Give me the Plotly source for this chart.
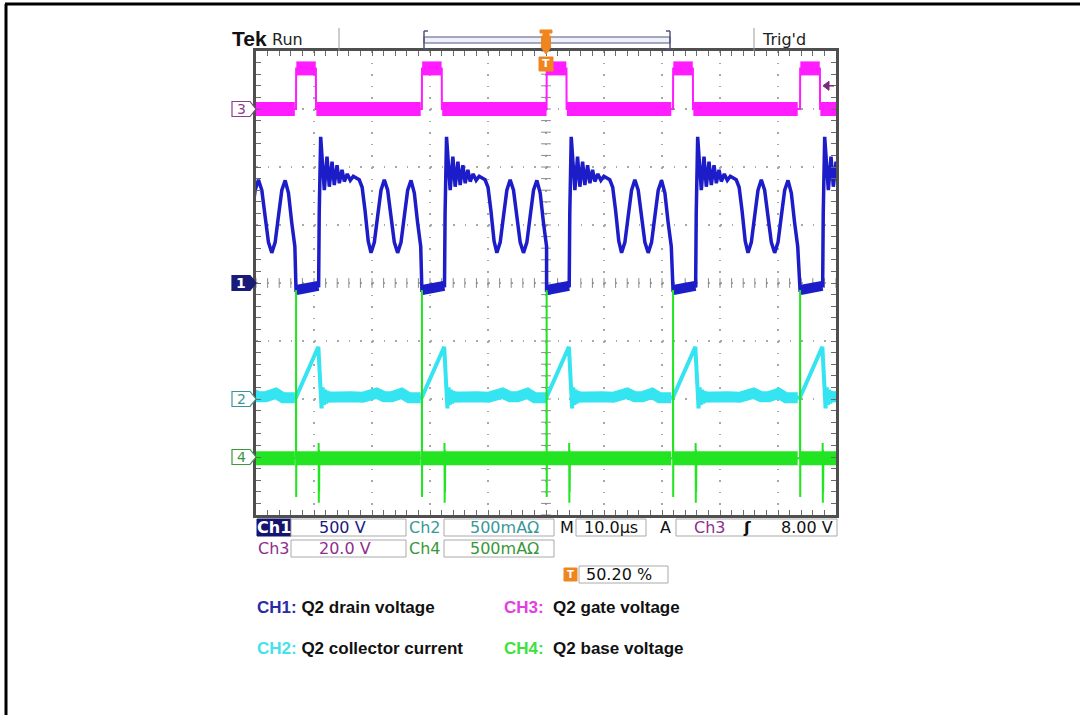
import plotly.graph_objects as go

W, H = 1080, 715
# screen (graticule) geometry in pixels
GX0, GX1, GY0, GY1 = 256, 836, 51, 515
DIV_PX = (GY1 - GY0) / 8.0
CY = (GY0 + GY1) / 2.0


def px(x):
    return x / W


def py(y):
    return 1 - y / H


# ---------------- data read from the screen ----------------
# rising edges of the gate pulse (CH3), µs on a 100 µs screen (10 µs/div)
EDGE_TIMES_US = [-14.8, 6.9, 28.6, 50.1, 71.9, 93.8]

# CH1 drain voltage, one switching cycle (µs after gate edge, volts)
CH1_DT = [0.00, 3.90, 4.00, 4.25, 4.88, 5.34, 5.74, 6.21, 6.60, 7.07, 7.47, 7.93,
          8.33, 8.84, 9.36, 9.88, 10.90, 11.40, 11.90, 12.45, 12.93, 13.50, 14.07,
          14.65, 15.22, 15.80, 16.37, 16.95, 17.52, 18.10, 18.67, 19.25, 19.83,
          20.40, 20.95, 21.50]
CH1_V = [-60, -25, 600, 1260, 800, 1090, 830, 1045, 845, 1015, 860, 975,
         875, 940, 885, 920, 890, 825, 625, 360, 260, 350, 575,
         800, 890, 800, 575, 350, 260, 350, 575, 800, 885,
         775, 525, 315]
CH1_BAND_DT = [0.05, 3.85]
CH1_BAND_V = [-60, -25]

# CH2 collector current (mA)
CH2_DT = [0.00, 3.85, 4.05, 4.40, 4.60, 4.80, 5.00, 5.20, 5.40, 5.60, 5.85, 6.10,
          6.40, 6.70, 7.10, 7.50, 8.00, 9.50, 11.50, 12.80, 13.90, 15.20, 16.50,
          18.20, 19.50, 21.50]
CH2_MA = [15, 450, 250, -80, 100, -50, 80, -40, 70, -20, 60, -10,
          45, 0, 35, 10, 25, 20, 15, 25, 50, 20, 20,
          50, 10, 10]
CH2_BAND_DT = [4.70, 6.00, 8.00, 9.50, 11.50, 12.80, 13.90, 15.20, 16.50, 18.20, 19.50, 21.50]
CH2_BAND_MA = [15, 20, 25, 20, 15, 25, 50, 20, 20, 50, 10, 10]

# CH3 gate voltage (V)
CH3_DT = [0.00, 0.02, 3.43, 3.45, 21.50]
CH3_V = [0, 14, 14, 0, 0]
CH3_BAND_DT = [0.05, 3.40, None, 3.50, 21.50]
CH3_BAND_V = [14, 14, None, 0, 0]

# CH4 base voltage (mA-ohm)
CH4_DT = [0.00, 0.01, 0.03, 0.05, 3.88, 3.90, 3.93, 3.96, 3.99, 4.02, 21.50]
CH4_MA = [-10, 1440, -345, -10, -10, 120, -395, 60, -300, -10, -10]
CH4_BAND_DT = [0.00, 21.50]
CH4_BAND_MA = [-10, -10]

CHANNEL_SCALE = [500, 500, 20, 500]       # units per division
CHANNEL_OFFSET_DIV = [0, -2, 3, -3]       # ground marker position
CHANNEL_COLOR = ["#1c1cc8", "#34e4f0", "#ff1cff", "#22e422"]
TRIGGER_LEVEL_V = 8.0

INFO_ROW1 = ["Ch1", "500 V", "Ch2", "500mAΩ", "M", "10.0µs", "A", "Ch3", "ʃ", "8.00 V"]
INFO_ROW2 = ["Ch3", "20.0 V", "Ch4", "500mAΩ"]
TRIGGER_POS_TEXT = "50.20 %"
LEGEND_ITEMS = [("CH1:", "Q2 drain voltage", "#2b2ba6"),
                ("CH3:", " Q2 gate voltage", "#e23ee2"),
                ("CH2:", "Q2 collector current", "#44e2ea"),
                ("CH4:", " Q2 base voltage", "#3ee23e")]


def tile(dts, vals, gap=False):
    xs, ys = [], []
    for e in EDGE_TIMES_US:
        for d, v in zip(dts, vals):
            if d is None:
                xs.append(None)
                ys.append(None)
            else:
                xs.append(e + d)
                ys.append(v)
        if gap:
            xs.append(None)
            ys.append(None)
    return xs, ys


fig = go.Figure()

# graticule centre-line ticks (on division axis)
tx = [i * 2 for i in range(51)]
fig.add_trace(go.Scatter(x=tx, y=[0] * len(tx), mode="markers", yaxis="y",
                         marker=dict(symbol="line-ns", size=7, line=dict(width=1, color="#8a8a8a")),
                         hoverinfo="skip"))
ty = [-4 + i * 0.2 for i in range(41)]
fig.add_trace(go.Scatter(x=[50] * len(ty), y=ty, mode="markers", yaxis="y",
                         marker=dict(symbol="line-ew", size=7, line=dict(width=1, color="#8a8a8a")),
                         hoverinfo="skip"))

channels = [
    (4, CH4_DT, CH4_MA, CH4_BAND_DT, CH4_BAND_MA, 2.0, 14),
    (2, CH2_DT, CH2_MA, CH2_BAND_DT, CH2_BAND_MA, 4.0, 11),
    (3, CH3_DT, CH3_V, CH3_BAND_DT, CH3_BAND_V, 2.0, 14),
    (1, CH1_DT, CH1_V, CH1_BAND_DT, CH1_BAND_V, 3.5, 10),
]
for ch, dt, val, bdt, bval, wthin, wband in channels:
    color = CHANNEL_COLOR[ch - 1]
    ax = "y%d" % (ch + 1)
    bx, by = tile(bdt, bval, gap=True)
    fig.add_trace(go.Scatter(x=bx, y=by, mode="lines", yaxis=ax,
                             line=dict(color=color, width=wband), hoverinfo="skip"))
    lx, ly = tile(dt, val)
    fig.add_trace(go.Scatter(x=lx, y=ly, mode="lines", yaxis=ax,
                             line=dict(color=color, width=wthin), hoverinfo="skip"))

xdom = [px(GX0), px(GX1)]
ydom = [py(GY1), py(GY0)]
axis_common = dict(showticklabels=False, zeroline=False, showline=True, linecolor="#4f4f4f",
                   linewidth=3, mirror="ticks", ticks="inside", ticklen=5, tickcolor="#6a6a6a",
                   tickwidth=1, showgrid=True, gridcolor="#a8a8a8", gridwidth=1.5,
                   griddash="1.6px,%.2fpx" % (DIV_PX / 5 - 1.6), fixedrange=True)
layout = dict(
    width=W, height=H, margin=dict(l=0, r=0, t=0, b=0),
    paper_bgcolor="white", plot_bgcolor="white", showlegend=False,
    xaxis=dict(domain=xdom, range=[0, 100], dtick=10,
               minor=dict(dtick=2, ticks="inside", ticklen=5, tickcolor="#6a6a6a", showgrid=False),
               **axis_common),
    yaxis=dict(domain=ydom, range=[-4, 4], dtick=1,
               minor=dict(dtick=0.2, ticks="inside", ticklen=5, tickcolor="#6a6a6a", showgrid=False),
               **axis_common),
)
for i in range(4):
    sc, off = CHANNEL_SCALE[i], CHANNEL_OFFSET_DIV[i]
    layout["yaxis%d" % (i + 2)] = dict(overlaying="y", range=[(-4 - off) * sc, (4 - off) * sc],
                                       visible=False, fixedrange=True)
fig.update_layout(**layout)

shapes = []
ann = []


def rect(x0, y0, x1, y1, fill="white", line="#aaaaaa", lw=1):
    shapes.append(dict(type="rect", xref="paper", yref="paper", x0=px(x0), x1=px(x1),
                       y0=py(y1), y1=py(y0), fillcolor=fill, line=dict(color=line, width=lw)))


def line(x0, y0, x1, y1, color="#888888", w=1):
    shapes.append(dict(type="line", xref="paper", yref="paper", x0=px(x0), x1=px(x1),
                       y0=py(y0), y1=py(y1), line=dict(color=color, width=w)))


def path(pts, fill, color, w=1):
    d = "M " + " L ".join("%f,%f" % (px(a), py(b)) for a, b in pts) + " Z"
    shapes.append(dict(type="path", xref="paper", yref="paper", path=d, fillcolor=fill,
                       line=dict(color=color, width=w)))


def text(x, y, s, size=15, color="#111111", xanchor="center", family="DejaVu Sans"):
    ann.append(dict(x=px(x), y=py(y), xref="paper", yref="paper", text=s, showarrow=False,
                    xanchor=xanchor, yanchor="middle", font=dict(size=size, color=color, family=family)))


# outer frame (top and left)
line(6, 715, 6, 4, "black", 3)
line(5, 4, 1080, 4, "black", 3)

# header
text(230, 38, "<b>Tek</b>", 21, "#111111", "left", "Liberation Sans")
text(270, 39, "Run", 16, "#222222", "left")
text(760, 39, "Trig'd", 16, "#222222", "left")
line(339, 28, 339, 51, "#9a9a9a", 1)
line(754, 28, 754, 51, "#9a9a9a", 1)
rect(424, 37, 670, 43, "#eef0fa", "#55557a", 1.2)
line(424, 31, 424, 49, "#55557a", 1.5)
line(670, 31, 670, 49, "#55557a", 1.5)
line(424, 31, 428, 31, "#55557a", 1.5)
line(424, 49, 428, 49, "#55557a", 1.5)
line(666, 31, 670, 31, "#55557a", 1.5)
line(666, 49, 670, 49, "#55557a", 1.5)
# trigger position markers (orange)
ORANGE = "#f0851e"
path([(540, 30), (552, 30), (552, 33), (549, 33), (549, 36), (543, 36), (543, 33), (540, 33)], ORANGE, ORANGE)
rect(541.5, 36, 550.5, 47, ORANGE, ORANGE)
path([(541, 47), (551, 47), (546, 54)], ORANGE, ORANGE)
rect(539, 57, 553, 71, ORANGE, ORANGE)
text(546, 64, "<b>T</b>", 11, "white")

# channel ground markers
marker_style = [("#1a1a78", "#1a1a78", "white"), ("white", "#3b9595", "#3b9595"),
                ("white", "#8e3c8e", "#8e3c8e"), ("white", "#3c963c", "#3c963c")]
for i in range(4):
    c = CY - CHANNEL_OFFSET_DIV[i] * DIV_PX
    fill, lc, tc = marker_style[i]
    path([(232, c - 7.5), (250, c - 7.5), (256, c), (250, c + 7.5), (232, c + 7.5)], fill, lc, 1.2)
    text(241, c, "<b>%d</b>" % (i + 1) if i == 0 else str(i + 1), 14, tc)

# trigger level arrow (CH3, 8 V)
ty_px = CY - (CHANNEL_OFFSET_DIV[2] + TRIGGER_LEVEL_V / CHANNEL_SCALE[2]) * DIV_PX
path([(823, ty_px), (829, ty_px - 4.5), (829, ty_px + 4.5)], "#7a2a7a", "#7a2a7a")
line(829, ty_px, 834, ty_px, "#7a2a7a", 1.5)

# info boxes
NAVY, TEAL, PURP, GRN = "#1a1a80", "#3a9898", "#8e2e8e", "#389838"
FS = 16
r1, r2, r3 = (519, 536), (540, 557), (566, 583)
rect(257, r1[0], 291, r1[1], "#141470", "#141470")
text(274, 527.5, "<b>" + INFO_ROW1[0] + "</b>", FS, "white")
rect(291, r1[0], 406, r1[1])
text(342, 527.5, INFO_ROW1[1], FS, NAVY)
text(425, 527.5, INFO_ROW1[2], FS, TEAL)
rect(444, r1[0], 554, r1[1])
text(504, 527.5, INFO_ROW1[3], FS, TEAL)
text(567, 527.5, INFO_ROW1[4], FS, "#111111")
rect(576, r1[0], 646, r1[1])
text(611, 527.5, INFO_ROW1[5], FS, "#111111")
text(665, 527.5, INFO_ROW1[6], FS, "#111111")
rect(676, r1[0], 837, r1[1])
text(710, 527.5, INFO_ROW1[7], FS, PURP)
text(747, 527.5, "<b>" + INFO_ROW1[8] + "</b>", FS, "#111111")
text(835, 527.5, INFO_ROW1[9], FS, "#111111", "right")

text(274, 548.5, INFO_ROW2[0], FS, PURP)
rect(291, r2[0], 406, r2[1])
text(345, 548.5, INFO_ROW2[1], FS, PURP)
text(425, 548.5, INFO_ROW2[2], FS, GRN)
rect(444, r2[0], 554, r2[1])
text(504, 548.5, INFO_ROW2[3], FS, GRN)

rect(564, 568, 577, 581, ORANGE, ORANGE)
text(570.5, 574.5, "<b>T</b>", 10, "white")
rect(579, r3[0], 668, r3[1])
text(584, 574.5, TRIGGER_POS_TEXT, FS, "#111111", "left")

# channel legend
leg_pos = [(255, 607), (502, 607), (255, 648), (502, 648)]
for (lab, desc, col), (x, y) in zip(LEGEND_ITEMS, leg_pos):
    text(x, y, "<b><span style='color:%s'>%s</span> %s</b>" % (col, lab, desc), 17, "#111111",
         "left", "Liberation Sans")

fig.update_layout(shapes=shapes, annotations=ann)
fig.write_html("out.html", config={"displayModeBar": False, "staticPlot": True},
               post_script="document.body.style.margin='0px';document.body.style.overflow='hidden';")
